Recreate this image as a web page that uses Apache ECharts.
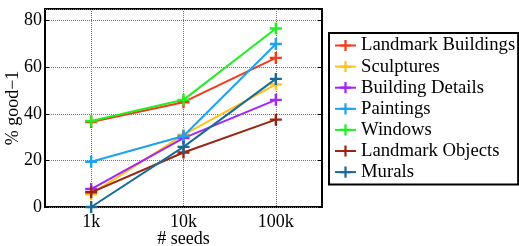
<!DOCTYPE html>
<html><head><meta charset="utf-8">
<script src="https://cdn.jsdelivr.net/npm/echarts@6/dist/echarts.min.js"></script>
<style>html,body{margin:0;padding:0;background:#fff}#c{width:519px;height:246px}</style>
</head><body><div id="c"></div>
<script>
const categories = ['1k', '10k', '100k'];
const seriesNames = ['Landmark Buildings', 'Sculptures', 'Building Details', 'Paintings', 'Windows', 'Landmark Objects', 'Murals'];
const landmarkBuildings = [36.5, 45, 64];
const sculptures = [5.5, 31, 52.6];
const buildingDetails = [7.7, 29.6, 46];
const paintings = [19.4, 30.5, 70];
const windows = [36.9, 46, 76.6];
const landmarkObjects = [6.3, 23.4, 37.5];
const murals = [0, 25.8, 55];
const seriesValues = [landmarkBuildings, sculptures, buildingDetails, paintings, windows, landmarkObjects, murals];
const colors = ['#f43a1c', '#ffc21a', '#a425f5', '#1ea1ee', '#22ee22', '#9b2410', '#1a6a98'];

const FONT = 'Liberation Serif';
const plus = 'path://M4,0H6V4H10V6H6V10H4V6H0V4H4Z';
const chart = echarts.init(document.getElementById('c'));
chart.setOption({
  animation: false,
  grid: {left: 45, right: 197, top: 9, bottom: 39, show: true, borderColor: '#000', borderWidth: 2, backgroundColor: 'transparent', outerBoundsMode: 'none', containLabel: false},
  legend: {
    orient: 'vertical', left: 329, top: 33,
    padding: [3, 3, 3, 5], itemGap: 2.1, itemWidth: 21, itemHeight: 14,
    borderColor: '#000', borderWidth: 2,
    textStyle: {fontFamily: FONT, fontSize: 18.7, color: '#000'},
    data: seriesNames
  },
  xAxis: [{
    type: 'category', data: categories, boundaryGap: true,
    axisLine: {show: false},
    axisTick: {inside: true, alignWithLabel: true, length: 4, lineStyle: {color: '#000'}},
    axisLabel: {fontFamily: FONT, fontSize: 18, color: '#000', margin: 6},
    splitLine: {show: true, alignWithLabel: true, lineStyle: {color: '#777', type: 'dotted', width: 1}},
    name: '# seeds', nameLocation: 'middle', nameGap: 23, nameMoveOverlap: false,
    nameTextStyle: {fontFamily: FONT, fontSize: 18, color: '#000'}
  }, {
    type: 'category', data: categories, boundaryGap: true, position: 'top',
    axisLine: {show: false},
    axisTick: {inside: true, alignWithLabel: true, length: 4, lineStyle: {color: '#000'}},
    axisLabel: {show: false}, splitLine: {show: false}
  }],
  yAxis: [{
    type: 'value', min: 0, max: 85, interval: 20,
    axisLine: {show: false},
    axisTick: {show: true, inside: true, length: 4, lineStyle: {color: '#000'}},
    axisLabel: {fontFamily: FONT, fontSize: 18, color: '#000', margin: 3, showMaxLabel: false},
    splitLine: {show: true, lineStyle: {color: '#777', type: 'dotted', width: 1}},
    name: '% good\u22121', nameLocation: 'middle', nameGap: 23, nameRotate: 90, nameMoveOverlap: false,
    nameTextStyle: {fontFamily: FONT, fontSize: 18, color: '#000'}
  }, {
    type: 'value', min: 0, max: 85, interval: 20, position: 'right',
    axisLine: {show: false},
    axisTick: {show: true, inside: true, length: 4, lineStyle: {color: '#000'}},
    axisLabel: {show: false}, splitLine: {show: false}
  }],
  series: seriesNames.map((n, i) => ({
    name: n, type: 'line', data: seriesValues[i],
    xAxisIndex: 0, yAxisIndex: 0,
    symbol: plus, symbolSize: 12, showAllSymbol: true,
    lineStyle: {color: colors[i], width: 2},
    itemStyle: {color: colors[i]},
    z: 2 + i * 0.01
  }))
});
</script></body></html>
